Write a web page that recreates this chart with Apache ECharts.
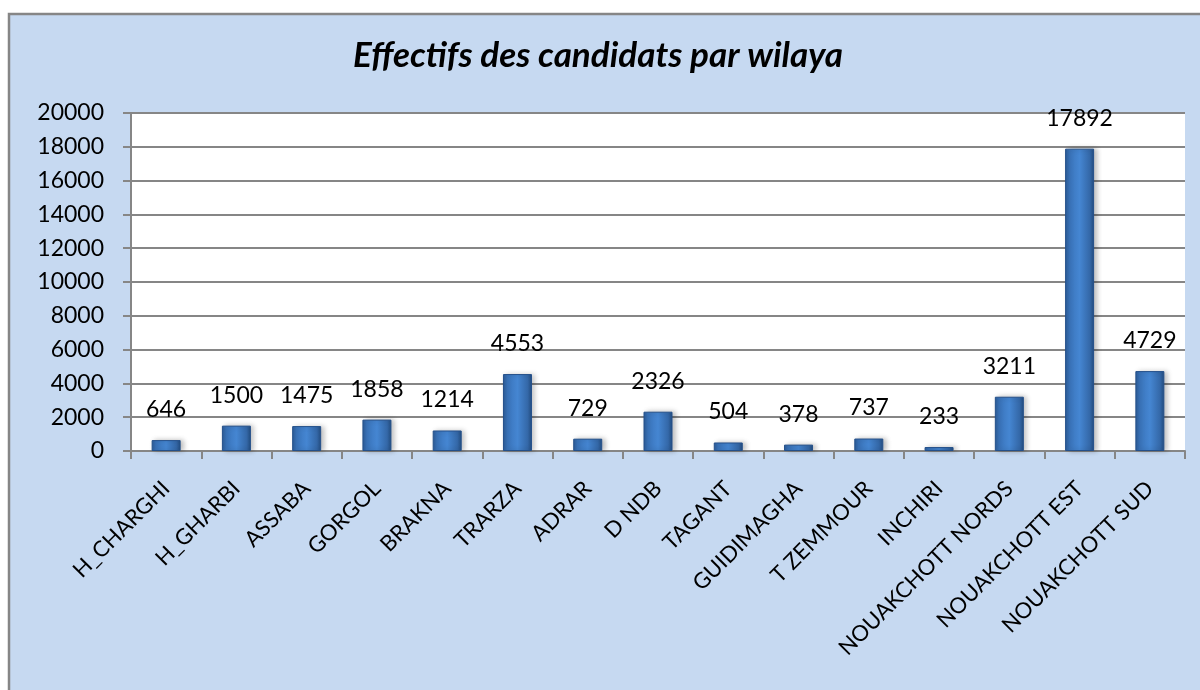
<!DOCTYPE html>
<html>
<head>
<meta charset="utf-8">
<title>Effectifs des candidats par wilaya</title>
<script src="https://cdn.jsdelivr.net/npm/echarts@6/dist/echarts.min.js"></script>
<style>
    html, body { margin: 0; padding: 0; background: #ffffff; }
    #chart { width: 1200px; height: 690px; }
</style>
</head>
<body>
<div id="chart"></div>
<script>
const wilayas = ['H_CHARGHI', 'H_GHARBI', 'ASSABA', 'GORGOL', 'BRAKNA', 'TRARZA', 'ADRAR', 'D NDB',
    'TAGANT', 'GUIDIMAGHA', 'T ZEMMOUR', 'INCHIRI', 'NOUAKCHOTT NORDS', 'NOUAKCHOTT EST', 'NOUAKCHOTT SUD'];
const effectifs = [646, 1500, 1475, 1858, 1214, 4553, 729, 2326, 504, 378, 737, 233, 3211, 17892, 4729];
const yTicks = [0, 20000, 2000];

(function () {
    const chart = echarts.init(document.getElementById('chart'));
    const fontFamily = 'Lato, "Open Sans", sans-serif';
    const gray = '#868686';
    const option = {
        backgroundColor: '#ffffff',
        graphic: [{
            type: 'rect',
            z: -10,
            shape: { x: 9, y: 14, width: 1220, height: 700 },
            style: { fill: '#c6d9f1', stroke: gray, lineWidth: 2.5 }
        }],
        title: {
            text: 'Effectifs des candidats par wilaya',
            left: 593,
            textAlign: 'center',
            top: 33,
            textStyle: {
                fontFamily: fontFamily,
                fontSize: 35,
                fontWeight: 'bold',
                fontStyle: 'italic',
                color: '#000000'
            }
        },
        grid: {
            left: 131,
            top: 113,
            right: 15,
            bottom: 239,
            show: true,
            backgroundColor: '#ffffff',
            borderWidth: 0
        },
        xAxis: {
            type: 'category',
            data: wilayas,
            axisLine: { lineStyle: { color: gray, width: 2 } },
            axisTick: { show: true, length: 8, lineStyle: { color: gray, width: 2 } },
            axisLabel: {
                rotate: 45,
                interval: 0,
                margin: 34,
                fontFamily: fontFamily,
                fontSize: 22,
                color: '#000000'
            }
        },
        yAxis: {
            type: 'value',
            min: yTicks[0],
            max: yTicks[1],
            interval: yTicks[2],
            axisLine: { show: true, lineStyle: { color: gray, width: 2 } },
            axisTick: { show: true, length: 8, lineStyle: { color: gray, width: 2 } },
            splitLine: { lineStyle: { color: gray, width: 2 } },
            axisLabel: {
                margin: 27,
                fontFamily: fontFamily,
                fontSize: 23,
                color: '#000000',
                formatter: function (v) { return String(v); }
            }
        },
        series: [{
            type: 'bar',
            data: effectifs,
            barWidth: 29,
            itemStyle: {
                color: new echarts.graphic.LinearGradient(0, 0, 1, 0, [
                    { offset: 0, color: '#2b5a95' },
                    { offset: 0.15, color: '#3a74bb' },
                    { offset: 0.5, color: '#4586d2' },
                    { offset: 0.85, color: '#3468a8' },
                    { offset: 1, color: '#234c7e' }
                ]),
                borderColor: '#24508a',
                borderWidth: 1,
                shadowColor: 'rgba(0,0,0,0.25)',
                shadowBlur: 5,
                shadowOffsetX: 3,
                shadowOffsetY: 0
            },
            label: {
                show: true,
                position: 'top',
                distance: 19,
                fontFamily: fontFamily,
                fontSize: 23,
                color: '#000000'
            }
        }]
    };
    chart.setOption(option);
    window.addEventListener('resize', function () {
        chart.resize();
    });
})();
</script>
</body>
</html>
